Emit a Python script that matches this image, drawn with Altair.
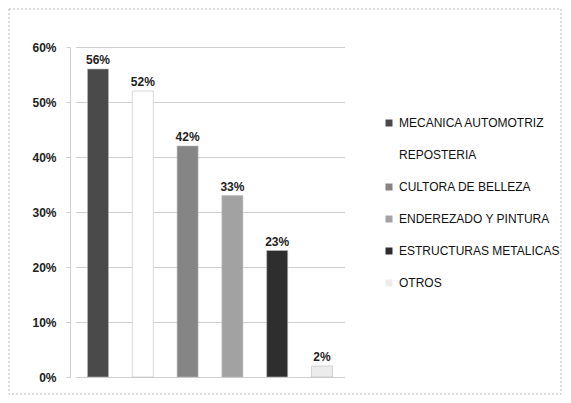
import altair as alt
import pandas as pd

categories = ["MECANICA AUTOMOTRIZ", "REPOSTERIA", "CULTORA DE BELLEZA",
              "ENDEREZADO Y PINTURA", "ESTRUCTURAS METALICAS", "OTROS"]
values = [0.56, 0.52, 0.42, 0.33, 0.23, 0.02]
colors = ["#4a4a4a", "#ffffff", "#858585", "#a2a2a2", "#2e2e2e", "#ececec"]
y_ticks = [0, 0.1, 0.2, 0.3, 0.4, 0.5, 0.6]

df = pd.DataFrame({"cat": categories, "val": values})

FONT = "Liberation Sans"

xenc = alt.X("cat:N", sort=categories, axis=None,
             scale=alt.Scale(range=[5.6, 274.4], paddingInner=0.53, paddingOuter=0.265))
yenc = alt.Y("val:Q", title=None,
             scale=alt.Scale(domain=[0, 0.6], nice=False),
             axis=alt.Axis(format=".0%", values=y_ticks, grid=True, gridColor="#cfcfcf",
                           domainColor="#cfcfcf", tickColor="#cfcfcf", tickSize=4,
                           labelFont=FONT, labelFontSize=12, labelFontWeight="bold",
                           labelColor="#222222", labelPadding=10))

base = alt.Chart(df)

bars = base.mark_bar(stroke="#bdbdbd", strokeWidth=0.6).encode(
    x=xenc, y=yenc,
    color=alt.Color("cat:N", sort=categories,
                    scale=alt.Scale(domain=categories, range=colors),
                    legend=alt.Legend(title=None, orient="none", legendX=313, legendY=70,
                                      padding=0, rowPadding=20, labelOffset=4,
                                      symbolType="square", symbolSize=49,
                                      symbolStrokeWidth=0, labelFont=FONT,
                                      labelFontSize=12, labelColor="#111111",
                                      labelLimit=300)),
)

labels = base.mark_text(dy=-9, font=FONT, fontSize=12, fontWeight="bold",
                        color="#222222").encode(
    x=xenc, y=yenc, text=alt.Text("val:Q", format=".0%"))

border = alt.Chart(pd.DataFrame({"a": [0]})).mark_rect(
    fillOpacity=0, stroke="#bbbbbb", strokeDash=[2, 2], strokeWidth=1).encode(
    x=alt.value(-61), x2=alt.value(491), y=alt.value(-38), y2=alt.value(347))

chart = alt.layer(border, bars, labels).properties(
    width=285, height=330,
    autosize=alt.AutoSizeParams(type="none"),
    padding={"left": 62, "top": 39, "right": 208, "bottom": 18},
).configure(background="white").configure_view(strokeOpacity=0, strokeWidth=0)

chart.save("out.html", embed_options={"renderer": "svg", "actions": False})
